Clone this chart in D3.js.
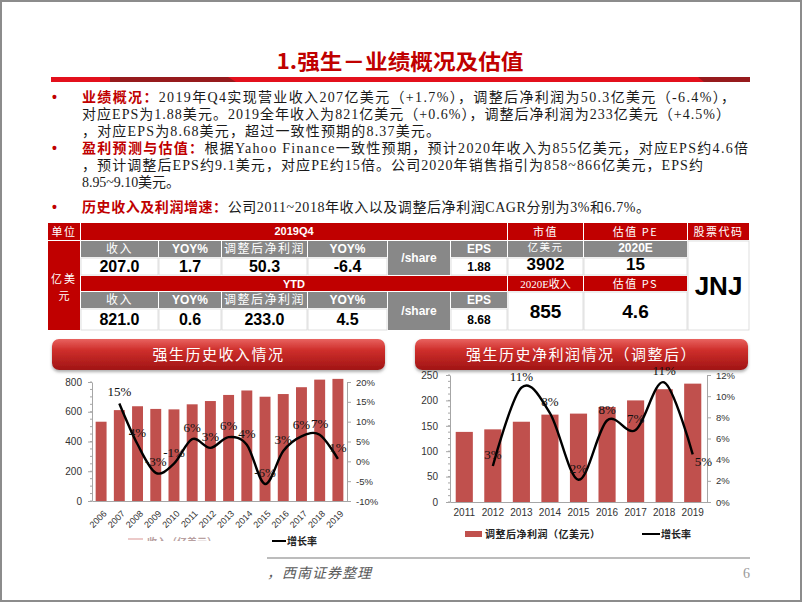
<!DOCTYPE html>
<html>
<head>
<meta charset="utf-8">
<script src="https://cdn.jsdelivr.net/npm/d3@7"></script>
<style>
  body { margin: 0; background: #fff; }
</style>
</head>
<body>
<div id="slide"></div>
<script>
// ---------------- data ----------------
const summaryLabels = ["业绩概况：", "", "", "盈利预测与估值：", "", "", "历史收入及利润增速："];
const summaryText = [
  "2019年Q4实现营业收入207亿美元（+1.7%），调整后净利润为50.3亿美元（-6.4%），",
  "对应EPS为1.88美元。2019全年收入为821亿美元（+0.6%），调整后净利润为233亿美元（+4.5%）",
  "，对应EPS为8.68美元，超过一致性预期的8.37美元。",
  "根据Yahoo Finance一致性预期，预计2020年收入为855亿美元，对应EPS约4.6倍",
  "，预计调整后EPS约9.1美元，对应PE约15倍。公司2020年销售指引为858~866亿美元，EPS约",
  "8.95~9.10美元。",
  "公司2011~2018年收入以及调整后净利润CAGR分别为3%和6.7%。"
];

const tableHeads = ["收入", "YOY%", "调整后净利润", "YOY%"];
const q4Values = ["207.0", "1.7", "50.3", "-6.4"];
const ytdValues = ["821.0", "0.6", "233.0", "4.5"];
const epsValues = ["1.88", "8.68"];
const marketCap = "3902";
const revenue2020E = "855";
const pe2020E = "15";
const ps2020E = "4.6";
const ticker = "JNJ";

const revYears = ["2006","2007","2008","2009","2010","2011","2012","2013","2014","2015","2016","2017","2018","2019"];
const revenue = [533, 611, 637, 619, 616, 650, 672, 713, 743, 701, 719, 765, 816, 821];
const revGrowth = [null, 14.6, 4.3, -2.9, -0.6, 5.6, 3.4, 6.1, 4.2, -5.7, 2.6, 6.3, 6.7, 0.6];

const profitYears = ["2011","2012","2013","2014","2015","2016","2017","2018","2019"];
const profit = [138, 143, 158, 172, 174, 187, 200, 222, 233];
const profitGrowth = [null, 3.4, 10.8, 8.4, 2.1, 7.7, 6.8, 11.3, 4.5];

// ---------------- setup ----------------
const W = 802, H = 602;
const RED = "#c00000", GRAY = "#888888", BAR = "#c0504d";
const SANS = "'Liberation Sans', Arial, 'Noto Sans CJK SC', sans-serif";
const SERIF = "'Liberation Serif', 'Noto Sans CJK SC', serif";
const CJK = "'Noto Sans CJK SC', sans-serif";

const svg = d3.select("#slide").append("svg")
    .attr("width", W)
    .attr("height", H)
    .style("font-family", SANS);

const defs = svg.append("defs");
const grad = defs.append("linearGradient").attr("id", "bannerGrad")
    .attr("x1", 0).attr("y1", 0).attr("x2", 0).attr("y2", 1);
grad.append("stop").attr("offset", "0%").attr("stop-color", "#e8625f");
grad.append("stop").attr("offset", "35%").attr("stop-color", "#cf2f2c");
grad.append("stop").attr("offset", "100%").attr("stop-color", "#a01414");
defs.append("filter").attr("id", "shadow").attr("x", "-5%").attr("y", "-20%").attr("width", "110%").attr("height", "160%")
  .append("feDropShadow").attr("dx", 0).attr("dy", 2).attr("stdDeviation", 1.5).attr("flood-color", "#777").attr("flood-opacity", 0.6);
defs.append("clipPath").attr("id", "legendClip")
  .append("rect").attr("x", 120).attr("y", 530).attr("width", 120).attr("height", 11);

// outer frame
svg.append("rect")
    .attr("x", 1).attr("y", 1).attr("width", W - 2).attr("height", H - 2)
    .attr("fill", "#fff").attr("stroke", "#8c8c8c").attr("stroke-width", 2);

// ---------------- title ----------------
svg.append("text")
    .attr("x", 400).attr("y", 69)
    .attr("text-anchor", "middle")
    .attr("textLength", 247).attr("lengthAdjust", "spacingAndGlyphs")
    .attr("font-family", CJK).attr("font-size", 21).attr("font-weight", "bold")
    .attr("fill", RED)
    .text("1.强生－业绩概况及估值");

// red bar under title
svg.append("rect").attr("x", 51).attr("y", 77).attr("width", 699).attr("height", 5).attr("fill", "#e3101c");
svg.append("polygon").attr("points", "110,77 228,77 236,82 110,82").attr("fill", "#961a1c");
svg.append("polygon").attr("points", "698,77 750,77 750,82 704,82").attr("fill", "#961a1c");

// ---------------- bullet text ----------------
const lineEnds = [735, 730, 440, 748, 703, 180, 650];
const lineCenters = [97, 114, 131, 148, 165, 182, 207];
summaryText.forEach((t, i) => {
  const y = lineCenters[i] + 5;
  if (summaryLabels[i]) {
    svg.append("text").attr("x", 52).attr("y", y)
        .attr("font-size", 14).attr("fill", RED).attr("font-weight", "bold")
        .text("•");
  }
  const txt = svg.append("text")
      .attr("x", 82).attr("y", y)
      .attr("font-size", 14)
      .attr("textLength", lineEnds[i] - 82)
      .attr("lengthAdjust", "spacing");
  if (summaryLabels[i]) {
    txt.append("tspan").attr("font-family", CJK).attr("font-weight", "bold").attr("fill", RED).text(summaryLabels[i]);
  }
  txt.append("tspan").attr("font-family", SERIF).attr("fill", "#1a1a1a").text(t);
});

// ---------------- table ----------------
const colKeys = ["unit", "c1", "c2", "c3", "c4", "share", "eps", "mv", "pe", "code"];
const colEdges = [[48, 80], [81, 158], [159, 221], [222, 307], [308, 387], [388, 450], [451, 507], [508, 583], [584, 687], [688, 749]];
const rowEdges = [[223, 240], [241, 257], [258, 275], [276, 291], [292, 308], [309, 330]];
const CX = Object.fromEntries(colKeys.map((k, i) => [k, colEdges[i]]));
const table = svg.append("g");

function cell(c0, c1, r0, r1, fill, str, opt = {}) {
  const x0 = CX[c0][0], x1 = CX[c1][1], y0 = rowEdges[r0][0], y1 = rowEdges[r1][1];
  table.append("rect")
      .attr("x", x0).attr("y", y0).attr("width", x1 - x0).attr("height", y1 - y0)
      .attr("fill", fill)
      .attr("stroke", fill === "#fff" ? "#d6d6d6" : "none").attr("stroke-width", 0.8);
  if (str == null) return;
  table.append("text")
      .attr("x", (x0 + x1) / 2).attr("y", (y0 + y1) / 2 + (opt.dy || 0))
      .attr("dy", "0.36em")
      .attr("text-anchor", "middle")
      .attr("font-family", opt.font || SANS)
      .attr("font-size", opt.size || 12)
      .attr("font-weight", opt.weight || "normal")
      .attr("letter-spacing", opt.ls || 0)
      .attr("fill", opt.color || "#fff")
      .text(str);
}

const redCJK = { font: CJK, size: 11, ls: 1.5, dy: 0.5 };
const grayCJK = { font: CJK, size: 12, ls: 1.5 };
const boldW = { size: 12, weight: "bold" };
const valBig = { size: 16, weight: "bold", color: "#000" };
const valHuge = { size: 19, weight: "bold", color: "#000" };
const valHugeUp = { size: 17, weight: "bold", color: "#000", dy: -2.5 };
const valSmall = { size: 12, weight: "bold", color: "#000" };

// row 1
cell("unit", "unit", 0, 0, RED, "单位", redCJK);
cell("c1", "eps", 0, 0, RED, "2019Q4", { size: 11, weight: "bold" });
cell("mv", "mv", 0, 0, RED, "市值", redCJK);
cell("pe", "pe", 0, 0, RED, "估值 PE", redCJK);
cell("code", "code", 0, 0, RED, "股票代码", redCJK);
// unit column
cell("unit", "unit", 1, 5, RED, null);
table.append("text").attr("x", 64).attr("y", 283).attr("text-anchor", "middle")
    .attr("font-family", CJK).attr("font-size", 11).attr("letter-spacing", 2).attr("fill", "#fff").text("亿美");
table.append("text").attr("x", 64).attr("y", 300).attr("text-anchor", "middle")
    .attr("font-family", CJK).attr("font-size", 11).attr("fill", "#fff").text("元");

const valCols = ["c1", "c2", "c3", "c4"];
function block(r, values) {
  valCols.forEach((c, i) => {
    const o = tableHeads[i].startsWith("YOY") ? boldW : grayCJK;
    cell(c, c, r, r, GRAY, tableHeads[i], o);
    cell(c, c, r + 1, r + 1, "#fff", values[i], valBig);
  });
  cell("share", "share", r, r + 1, GRAY, "/share", boldW);
  cell("eps", "eps", r, r, GRAY, "EPS", boldW);
}
block(1, q4Values);
cell("eps", "eps", 2, 2, "#fff", epsValues[0], valSmall);
cell("mv", "mv", 1, 1, GRAY, "亿美元", { font: CJK, size: 10.5, ls: 1.5, dy: -1.5 });
cell("pe", "pe", 1, 1, GRAY, "2020E", { size: 12, weight: "bold", dy: -1 });
cell("mv", "mv", 2, 2, "#fff", marketCap, valHugeUp);
cell("pe", "pe", 2, 2, "#fff", pe2020E, valHugeUp);
cell("code", "code", 1, 5, "#fff", ticker, { size: 26, weight: "bold", color: "#000" });
// row 4
cell("c1", "eps", 3, 3, RED, "YTD", { size: 11, weight: "bold", dy: 0.5 });
cell("mv", "mv", 3, 3, RED, "2020E收入", { font: SERIF, size: 11, dy: 0.5 });
cell("pe", "pe", 3, 3, RED, "估值 PS", redCJK);
block(4, ytdValues);
cell("eps", "eps", 5, 5, "#fff", epsValues[1], valSmall);
cell("mv", "mv", 4, 5, "#fff", revenue2020E, valHuge);
cell("pe", "pe", 4, 5, "#fff", ps2020E, valHuge);

// ---------------- chart banners ----------------
function banner(x0, x1, title) {
  svg.append("rect")
      .attr("x", x0).attr("y", 339).attr("width", x1 - x0).attr("height", 31).attr("rx", 7)
      .attr("fill", "url(#bannerGrad)").attr("filter", "url(#shadow)");
  svg.append("text")
      .attr("x", (x0 + x1) / 2).attr("y", 360)
      .attr("text-anchor", "middle")
      .attr("font-family", CJK).attr("font-size", 15).attr("letter-spacing", 1.5)
      .attr("fill", "#fff")
      .text(title);
}
banner(52, 385, "强生历史收入情况");
banner(415, 748, "强生历史净利润情况（调整后）");

// ---------------- charts ----------------
function styleAxis(g) {
  g.select(".domain").attr("stroke", "#a6a6a6");
  g.selectAll(".tick line").attr("stroke", "#a6a6a6");
  g.selectAll(".tick text").attr("fill", "#333").attr("font-size", 10).attr("font-family", SANS);
}

function drawChart(o) {
  const g = svg.append("g");
  const x = d3.scaleBand().domain(o.years).range(o.xr).paddingInner(0.4).paddingOuter(0.2);
  const yL = d3.scaleLinear().domain(o.lDom).range([o.y0, o.y1]);
  const yR = d3.scaleLinear().domain(o.rDom).range([o.y0, o.y1]);

  g.selectAll("rect.bar")
    .data(o.years.map((yr, i) => ({ yr, v: o.bars[i] })))
    .join("rect")
      .attr("class", "bar")
      .attr("x", d => x(d.yr))
      .attr("y", d => yL(d.v))
      .attr("width", x.bandwidth())
      .attr("height", d => yL(0) - yL(d.v))
      .attr("fill", BAR);

  // minor ticks on left axis
  const minor = d3.range(o.lDom[0], o.lDom[1] + 0.001, o.lStep / 4);
  g.selectAll("line.minor").data(minor).join("line")
      .attr("x1", o.xr[0] - 2).attr("x2", o.xr[0])
      .attr("y1", d => yL(d)).attr("y2", d => yL(d))
      .attr("stroke", "#a6a6a6");

  const left = g.append("g").attr("transform", `translate(${o.xr[0]},0)`)
      .call(d3.axisLeft(yL).tickValues(d3.range(o.lDom[0], o.lDom[1] + 1, o.lStep)).tickSize(4).tickSizeOuter(0).tickPadding(o.lPad));
  styleAxis(left);

  const right = g.append("g").attr("transform", `translate(${o.xr[1]},0)`)
      .call(d3.axisRight(yR).tickValues(d3.range(o.rDom[0], o.rDom[1] + 0.1, o.rStep)).tickFormat(d => d + "%").tickSize(4).tickSizeOuter(0).tickPadding(5));
  styleAxis(right);
  right.selectAll(".tick text").attr("font-size", 9.5);

  const bottom = g.append("g").attr("transform", `translate(0,${o.y0})`)
      .call(d3.axisBottom(x).tickSize(0).tickPadding(o.rotate ? 0 : 7));
  styleAxis(bottom);
  if (o.rotate) {
    bottom.selectAll(".tick text")
        .attr("y", 0).attr("dy", "0.35em").attr("font-size", 9)
        .attr("transform", "translate(4,11) rotate(-45)")
        .style("text-anchor", "end");
  }

  const pts = o.years.map((yr, i) => ({ yr, v: o.growth[i] })).filter(d => d.v != null);
  const cx = d => x(d.yr) + x.bandwidth() / 2;
  const line = d3.line()
      .x(cx)
      .y(d => yR(d.v))
      .curve(d3.curveCardinal.tension(0));
  g.append("path").datum(pts)
      .attr("d", line)
      .attr("fill", "none").attr("stroke", "#000").attr("stroke-width", 2.4);

  const last = pts.length - 1;
  g.selectAll("text.lbl").data(pts).join("text")
      .attr("class", "lbl")
      .attr("x", (d, i) => cx(d) + (o.lastRight && i === last ? 2 : 0))
      .attr("y", (d, i) => yR(d.v) + (o.lastRight && i === last ? 12 : -7))
      .attr("text-anchor", (d, i) => o.lastRight && i === last ? "start" : "middle")
      .attr("font-family", SERIF).attr("font-size", 13)
      .attr("fill", "#111")
      .text(d => Math.round(d.v) + "%");
}

drawChart({
  years: revYears, bars: revenue, growth: revGrowth,
  xr: [92, 347], y0: 501, y1: 382,
  lDom: [0, 800], lStep: 200, lPad: 6,
  rDom: [-10, 20], rStep: 5,
  rotate: true
});

drawChart({
  years: profitYears, bars: profit, growth: profitGrowth,
  xr: [450, 707], y0: 502, y1: 375,
  lDom: [0, 250], lStep: 50, lPad: 8,
  rDom: [0, 12], rStep: 2,
  rotate: false, lastRight: true
});

// ---------------- legends ----------------
svg.append("line").attr("x1", 128).attr("x2", 143).attr("y1", 539).attr("y2", 539)
    .attr("stroke", "#e6b8b7").attr("stroke-width", 1.5);
svg.append("text").attr("x", 147).attr("y", 546)
    .attr("clip-path", "url(#legendClip)")
    .attr("font-family", CJK).attr("font-size", 10).attr("font-weight", "bold").attr("fill", "#b8a0a0")
    .text("收入（亿美元）");
svg.append("line").attr("x1", 272).attr("x2", 286).attr("y1", 541).attr("y2", 541)
    .attr("stroke", "#000").attr("stroke-width", 2);
svg.append("text").attr("x", 287).attr("y", 545)
    .attr("font-family", CJK).attr("font-size", 10).attr("font-weight", "bold").attr("fill", "#222")
    .text("增长率");

svg.append("rect").attr("x", 465).attr("y", 531).attr("width", 17).attr("height", 6).attr("fill", BAR);
svg.append("text").attr("x", 485).attr("y", 538)
    .attr("font-family", CJK).attr("font-size", 10).attr("font-weight", "bold").attr("fill", "#222")
    .attr("letter-spacing", 0.5)
    .text("调整后净利润（亿美元）");
svg.append("line").attr("x1", 642).attr("x2", 660).attr("y1", 534).attr("y2", 534)
    .attr("stroke", "#000").attr("stroke-width", 2);
svg.append("text").attr("x", 661).attr("y", 538)
    .attr("font-family", CJK).attr("font-size", 10).attr("font-weight", "bold").attr("fill", "#222")
    .text("增长率");

// ---------------- footer ----------------
svg.append("line").attr("x1", 267).attr("x2", 750).attr("y1", 558).attr("y2", 558)
    .attr("stroke", "#a6a6a6").attr("stroke-width", 1.5);
svg.append("text").attr("x", 267).attr("y", 578)
    .attr("font-family", CJK).attr("font-size", 14).attr("font-style", "italic")
    .attr("letter-spacing", 1).attr("fill", "#595959")
    .text("，西南证券整理");
svg.append("text").attr("x", 750).attr("y", 578).attr("text-anchor", "end")
    .attr("font-family", SERIF).attr("font-size", 14).attr("fill", "#999")
    .text("6");
</script>
</body>
</html>
